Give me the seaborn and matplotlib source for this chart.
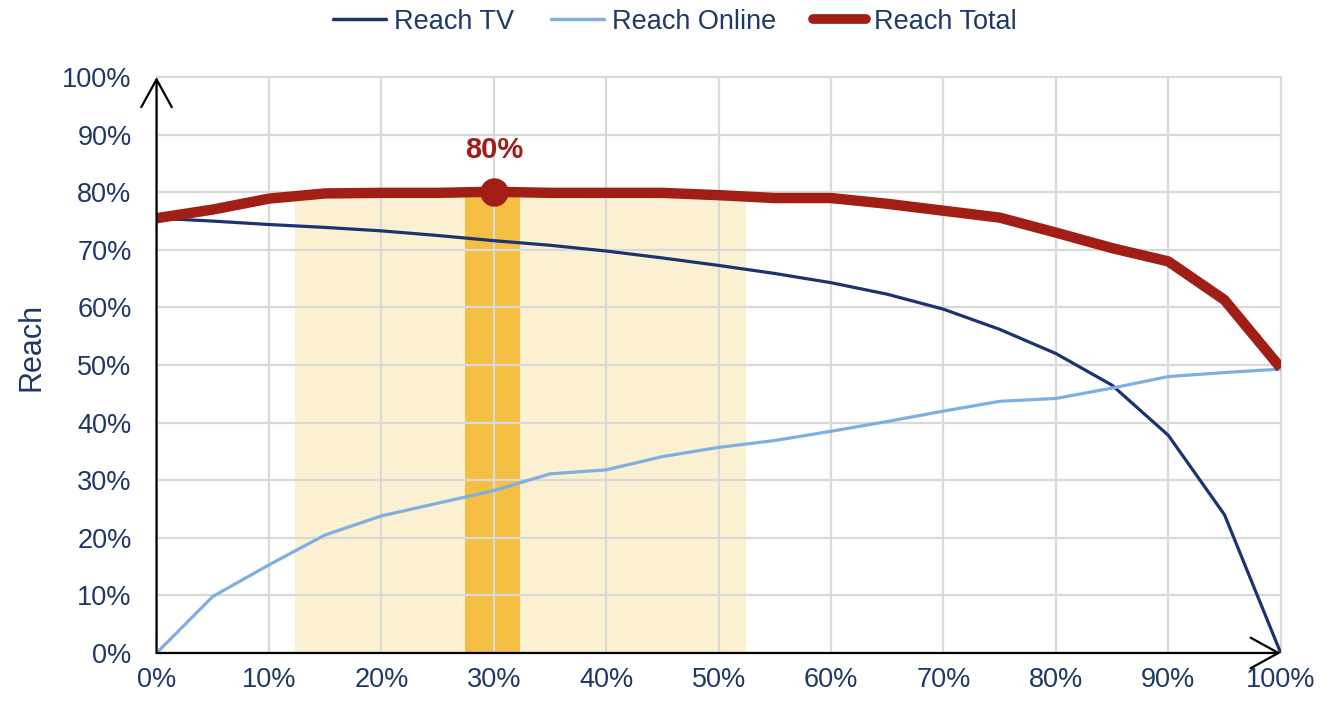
#!/usr/bin/env python3

import pandas
import seaborn as sns
import matplotlib.pyplot as plt
from matplotlib.lines import Line2D
from matplotlib.ticker import FuncFormatter, MultipleLocator

# Share of budget going online (%), at 5% steps
share = [0, 5, 10, 15, 20, 25, 30, 35, 40, 45, 50,
         55, 60, 65, 70, 75, 80, 85, 90, 95, 100]

reach_tv = [75.5, 75.0, 74.4, 73.9, 73.3, 72.5, 71.6, 70.8, 69.8, 68.6, 67.3,
            65.9, 64.3, 62.3, 59.7, 56.2, 52.0, 46.5, 37.8, 24.0, 0.0]
reach_online = [0.0, 9.8, 15.3, 20.5, 23.8, 26.0, 28.2, 31.1, 31.8, 34.1, 35.7,
                36.9, 38.5, 40.2, 42.0, 43.7, 44.2, 46.0, 48.0, 48.7, 49.3]
reach_total = [75.5, 77.0, 78.9, 79.8, 79.9, 79.9, 80.1, 79.9, 79.9, 79.9, 79.5,
               79.0, 79.0, 78.0, 76.8, 75.6, 73.0, 70.3, 68.0, 61.3, 49.5]

# highlighted ranges of the online share
wide_band = (12.3, 52.4)
best_band = (27.4, 32.3)
band_top = 80

NAVY = "#1F3864"
TV_COLOR = "#1C3370"
ONLINE_COLOR = "#7FAFE0"
TOTAL_COLOR = "#A01E15"


def main():
    sns.set_style("white")
    plt.rcParams["font.family"] = ["Liberation Sans", "DejaVu Sans"]

    df = pandas.DataFrame(
        {"share": share, "tv": reach_tv, "online": reach_online, "total": reach_total}
    )

    fig = plt.figure(figsize=(13.21, 7.01), dpi=100)
    ax = fig.add_axes([0.1185, 0.0685, 0.851, 0.8215])

    # shaded bands sit under everything
    ax.axvspan(*wide_band, ymin=0, ymax=band_top / 100, color="#FBF0D1", lw=0, zorder=0.2)
    ax.axvspan(*best_band, ymin=0, ymax=band_top / 100, color="#F4BF42", lw=0, zorder=0.3)

    sns.lineplot(data=df, x="share", y="tv", color=TV_COLOR, lw=2.3, ax=ax, zorder=3)
    sns.lineplot(data=df, x="share", y="online", color=ONLINE_COLOR, lw=2.3, ax=ax, zorder=3)
    sns.lineplot(data=df, x="share", y="total", color=TOTAL_COLOR, lw=7.5, ax=ax,
                 zorder=4, solid_capstyle="butt", solid_joinstyle="round")

    # optimum point
    best = df.loc[df.total.idxmax()]
    ax.scatter([best.share], [best.total], s=420, color=TOTAL_COLOR, zorder=5, lw=0)
    ax.annotate("80%", (best.share, best.total), xytext=(0, 30), textcoords="offset points",
                ha="center", va="center", color=TOTAL_COLOR, fontsize=21,
                fontweight="bold")

    ax.set_xlim(0, 100)
    ax.set_ylim(0, 100)
    ax.xaxis.set_major_locator(MultipleLocator(10))
    ax.yaxis.set_major_locator(MultipleLocator(10))
    pct = FuncFormatter(lambda v, p: f"{v:.0f}%")
    ax.xaxis.set_major_formatter(pct)
    ax.yaxis.set_major_formatter(pct)
    ax.tick_params(axis="both", length=0, labelsize=19.5, labelcolor=NAVY)
    ax.tick_params(axis="y", pad=18)
    ax.tick_params(axis="x", pad=10)

    ax.grid(True, color="#D9D9D9", lw=1.6, zorder=0.5)
    ax.set_axisbelow(True)
    for line in ax.get_xgridlines() + ax.get_ygridlines():
        line.set_clip_on(False)
    for side in ax.spines.values():
        side.set_visible(False)

    ax.set_xlabel("")
    ax.set_ylabel("Reach", fontsize=22, color=NAVY)
    ax.yaxis.set_label_coords(-0.098, 0.532)

    # axis arrows
    arrow = dict(arrowstyle="->,head_length=2.0,head_width=1.1", color="black",
                 lw=1.6, shrinkA=0, shrinkB=0)
    ax.annotate("", xy=(0, 100), xytext=(0, 0), arrowprops=arrow, annotation_clip=False, zorder=6)
    ax.annotate("", xy=(100, 0), xytext=(0, 0), arrowprops=arrow, annotation_clip=False, zorder=6)

    handles = [
        Line2D([], [], color=TV_COLOR, lw=2.5),
        Line2D([], [], color=ONLINE_COLOR, lw=2.5),
        Line2D([], [], color=TOTAL_COLOR, lw=7, solid_capstyle="round"),
    ]
    fig.legend(handles, ["Reach TV", "Reach Online", "Reach Total"], loc="center",
               bbox_to_anchor=(0.511, 0.969), ncol=3, frameon=False, fontsize=19.5,
               handlelength=1.95, handletextpad=0.3, columnspacing=1.35, labelcolor=NAVY)

    fig.savefig("out.png", dpi=100)


if __name__ == "__main__":
    main()
